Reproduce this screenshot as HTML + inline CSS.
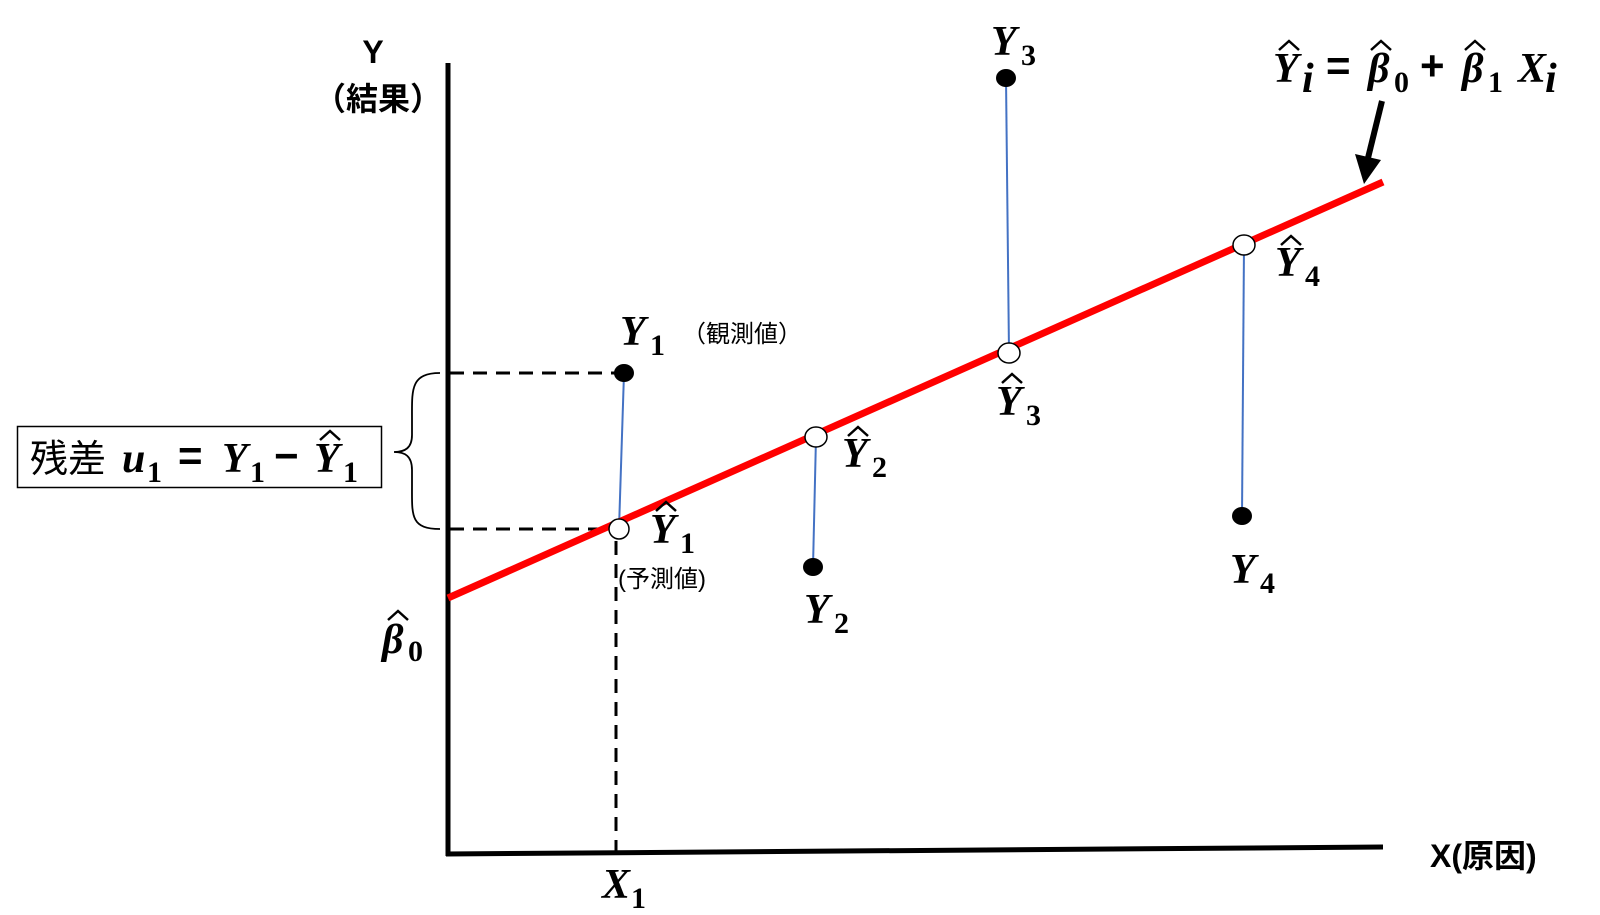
<!DOCTYPE html>
<html><head><meta charset="utf-8"><style>
html,body{margin:0;padding:0;background:#fff;}
svg{display:block;}
.m{font-family:"Liberation Serif",serif;font-weight:bold;font-style:italic;font-size:42px;fill:#000;}
.s{font-family:"Liberation Serif",serif;font-weight:bold;font-size:30px;fill:#000;}
.j{font-family:"Liberation Sans","Noto Sans CJK JP",sans-serif;fill:#000;}
.h{fill:none;stroke:#000;stroke-width:2.5;}
</style></head><body>
<svg width="1600" height="915" viewBox="0 0 1600 915" xmlns="http://www.w3.org/2000/svg">
<line x1="448" y1="63" x2="448" y2="856" stroke="#000" stroke-width="5"/>
<line x1="446" y1="854" x2="1383" y2="847" stroke="#000" stroke-width="5"/>
<g stroke="#000" stroke-width="3" stroke-dasharray="14,9">
<line x1="450" y1="373" x2="618" y2="373"/>
<line x1="450" y1="529" x2="612" y2="529"/>
<line x1="616" y1="541" x2="616" y2="852"/>
</g>
<g stroke="#4472C4" stroke-width="2">
<line x1="624" y1="373" x2="619" y2="529"/>
<line x1="816" y1="437" x2="813" y2="567"/>
<line x1="1009" y1="353" x2="1006" y2="78"/>
<line x1="1244" y1="245" x2="1242" y2="516"/>
</g>
<line x1="448" y1="598" x2="1383" y2="182" stroke="#f00" stroke-width="7"/>
<line x1="1382" y1="101" x2="1368" y2="158" stroke="#000" stroke-width="6"/>
<polygon points="1355,154 1381,160 1364,184" fill="#000"/>
<g fill="#000">
<ellipse cx="624" cy="373" rx="10" ry="9"/>
<ellipse cx="813" cy="567" rx="10" ry="9"/>
<ellipse cx="1006" cy="78" rx="10" ry="9"/>
<ellipse cx="1242" cy="516" rx="10" ry="9"/>
</g>
<g fill="#fff" stroke="#000" stroke-width="1.5">
<ellipse cx="619" cy="529" rx="10" ry="10"/>
<ellipse cx="816" cy="437" rx="11" ry="10"/>
<ellipse cx="1009" cy="353" rx="11" ry="10"/>
<ellipse cx="1244" cy="245" rx="11" ry="10"/>
</g>
<rect x="17.5" y="426.5" width="364" height="61" fill="#fff" stroke="#000" stroke-width="1.5"/>
<text x="30" y="472" class="j" font-size="38">残差</text>
<text x="122" y="472" class="m">u</text><text x="147" y="482" class="s">1</text>
<text x="178" y="470" class="j" font-size="42" font-weight="bold">=</text>
<text x="222" y="472" class="m">Y</text><text x="250" y="482" class="s">1</text>
<text x="274" y="470" class="j" font-size="42" font-weight="bold">−</text>
<text x="314" y="472" class="m">Y</text><text x="343" y="482" class="s">1</text>
<path class="h" d="M320 440 L330 431 L340 440"/>
<path d="M440 373 C410 373 412 390 412 420 L412 435 C412 448 405 452 394 452 C405 452 412 456 412 470 L412 485 C412 515 410 529 440 529" fill="none" stroke="#000" stroke-width="1.8"/>
<text x="373" y="63" class="j" font-size="32" font-weight="bold" text-anchor="middle">Y</text>
<text x="378" y="110" class="j" font-size="32" font-weight="bold" text-anchor="middle">（結果）</text>
<text x="1430" y="867" class="j" font-size="32" font-weight="bold">X(原因)</text>
<text x="620" y="345" class="m">Y</text><text x="650" y="355" class="s">1</text>
<text x="682" y="342" class="j" font-size="24">（観測値）</text>
<text x="650" y="543" class="m">Y</text><text x="680" y="553" class="s">1</text>
<path class="h" d="M656 511 L666 502 L676 511"/>
<text x="618" y="587" class="j" font-size="24">(予測値)</text>
<text x="842" y="467" class="m">Y</text><text x="872" y="477" class="s">2</text>
<path class="h" d="M848 436 L858 427 L868 436"/>
<text x="804" y="623" class="m">Y</text><text x="834" y="633" class="s">2</text>
<text x="996" y="415" class="m">Y</text><text x="1026" y="425" class="s">3</text>
<path class="h" d="M1002 383 L1012 374 L1022 383"/>
<text x="991" y="55" class="m">Y</text><text x="1021" y="65" class="s">3</text>
<text x="1275" y="276" class="m">Y</text><text x="1305" y="286" class="s">4</text>
<path class="h" d="M1281 245 L1291 236 L1301 245"/>
<text x="1230" y="583" class="m">Y</text><text x="1260" y="593" class="s">4</text>
<text x="382" y="653" class="m">β</text><text x="408" y="661" class="s">0</text>
<path class="h" d="M388 620 L398 611 L408 620"/>
<text x="602" y="898" class="m">X</text><text x="631" y="908" class="s">1</text>
<text x="1273" y="82" class="m">Y</text><text x="1302" y="92" class="m" font-size="28">i</text>
<path class="h" d="M1279 50 L1289 41 L1299 50"/>
<text x="1326" y="80" class="j" font-size="42" font-weight="bold">=</text>
<text x="1368" y="82" class="m">β</text><text x="1394" y="92" class="s">0</text>
<path class="h" d="M1371 50 L1381 41 L1391 50"/>
<text x="1420" y="80" class="j" font-size="42" font-weight="bold">+</text>
<text x="1462" y="82" class="m">β</text><text x="1488" y="92" class="s">1</text>
<path class="h" d="M1465 50 L1475 41 L1485 50"/>
<text x="1518" y="82" class="m" font-size="36">X</text><text x="1545" y="92" class="m" font-size="28">i</text>
</svg>
</body></html>
